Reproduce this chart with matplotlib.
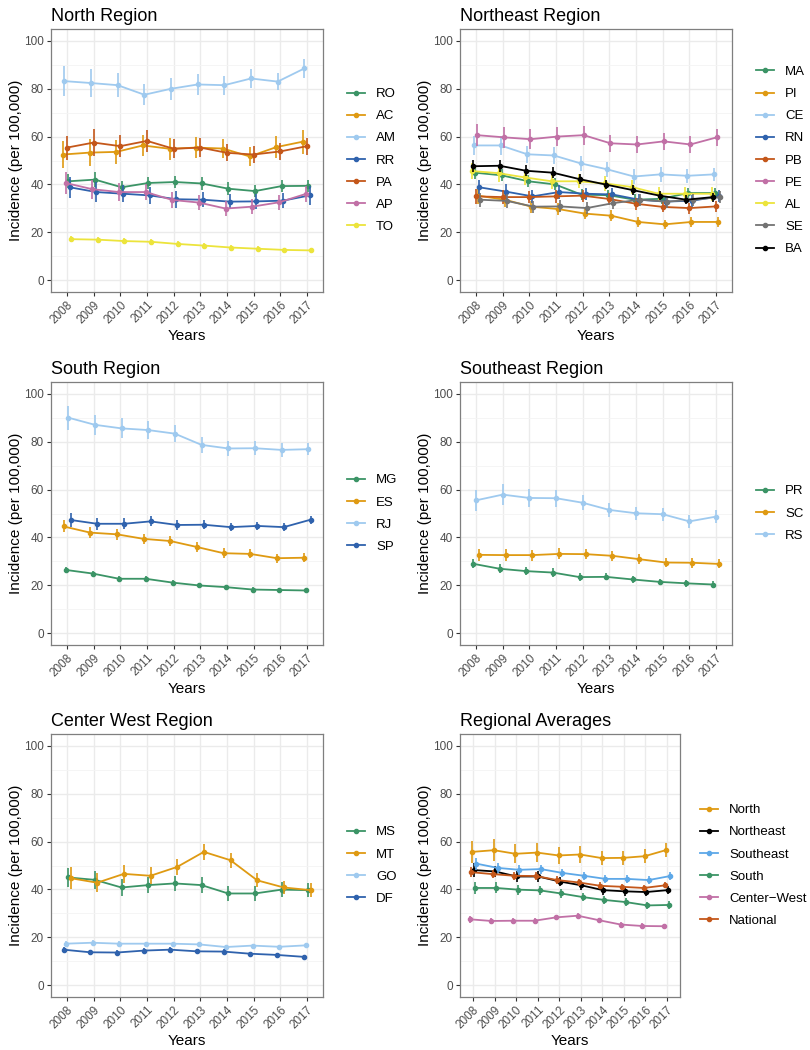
import numpy as np
import matplotlib
matplotlib.use("Agg")
import matplotlib.pyplot as plt

plt.rcParams['font.family'] = ['Liberation Sans', 'DejaVu Sans']

years = [2008, 2009, 2010, 2011, 2012, 2013, 2014, 2015, 2016, 2017]

# North Region
north_names = ['RO', 'AC', 'AM', 'RR', 'PA', 'AP', 'TO']
north_vals = [
    [41.3, 42.0, 38.8, 40.6, 41.0, 40.4, 38.2, 37.2, 39.3, 39.4],
    [52.5, 53.3, 53.6, 56.3, 54.9, 55.4, 55.0, 51.7, 55.6, 57.9],
    [83.2, 82.4, 81.5, 77.5, 80.0, 81.8, 81.5, 84.3, 83.0, 88.5],
    [38.8, 36.8, 36.1, 35.4, 33.8, 33.6, 32.8, 32.9, 33.2, 35.4],
    [55.4, 57.5, 56.0, 58.2, 54.9, 55.4, 53.2, 52.5, 53.8, 56.0],
    [40.6, 38.0, 36.8, 36.8, 33.5, 32.4, 29.9, 30.7, 32.5, 36.0],
    [17.1, 16.9, 16.3, 16.0, 15.1, 14.4, 13.6, 13.1, 12.6, 12.4],
]
north_err = [
    [3.0, 3.0, 2.8, 2.7, 2.7, 2.6, 2.6, 2.5, 2.5, 2.5],
    [5.5, 5.5, 5.0, 4.5, 4.5, 4.5, 4.0, 4.0, 4.5, 5.0],
    [6.2, 5.8, 5.0, 4.4, 4.7, 4.3, 3.9, 3.9, 3.7, 3.8],
    [4.5, 4.0, 3.5, 3.5, 3.5, 3.2, 3.2, 3.0, 3.0, 4.0],
    [5.0, 5.5, 4.5, 4.5, 4.0, 4.0, 3.5, 3.5, 3.5, 3.5],
    [4.5, 4.0, 3.8, 3.5, 3.2, 3.2, 3.0, 3.0, 3.0, 3.5],
    [1.3, 1.2, 1.2, 1.1, 1.1, 1.0, 1.0, 1.0, 1.0, 1.0],
]

# Northeast Region
ne_names = ['MA', 'PI', 'CE', 'RN', 'PB', 'PE', 'AL', 'SE', 'BA']
ne_vals = [
    [44.9, 43.8, 41.3, 40.0, 35.7, 35.5, 33.6, 34.0, 36.4, 36.4],
    [35.3, 33.6, 30.7, 29.7, 27.8, 26.9, 24.3, 23.3, 24.3, 24.3],
    [56.3, 56.3, 52.6, 52.1, 48.8, 46.3, 43.3, 44.2, 43.6, 44.2],
    [38.8, 37.0, 35.0, 36.8, 36.1, 35.8, 33.6, 32.8, 33.2, 35.0],
    [35.0, 34.7, 34.7, 35.0, 35.3, 33.9, 31.9, 30.6, 30.1, 30.8],
    [60.6, 59.7, 58.9, 60.0, 60.6, 57.2, 56.7, 58.0, 56.7, 59.7],
    [45.6, 44.7, 42.9, 41.3, 41.3, 40.4, 38.9, 36.1, 36.1, 36.1],
    [33.6, 33.1, 30.7, 30.8, 30.1, 32.2, 33.6, 32.8, 33.6, 34.7],
    [47.6, 47.8, 45.7, 44.9, 42.2, 39.9, 37.6, 35.3, 33.6, 34.7],
]
ne_err = [
    [2.5, 2.5, 2.5, 2.5, 2.3, 2.3, 2.2, 2.2, 2.2, 2.2],
    [3.5, 3.0, 2.5, 2.5, 2.2, 2.2, 2.0, 2.0, 2.0, 2.0],
    [4.0, 4.0, 3.5, 3.5, 3.2, 3.0, 3.0, 3.0, 3.0, 2.8],
    [3.0, 3.0, 2.8, 2.8, 2.6, 2.6, 2.5, 2.5, 2.5, 2.5],
    [3.0, 2.8, 2.6, 2.6, 2.5, 2.5, 2.4, 2.3, 2.3, 2.3],
    [4.5, 4.5, 4.2, 4.0, 4.0, 3.5, 3.5, 3.5, 3.5, 3.5],
    [3.5, 3.5, 3.2, 3.2, 3.0, 3.0, 3.0, 3.0, 3.0, 3.0],
    [3.0, 3.0, 2.5, 2.5, 2.5, 2.5, 2.5, 2.5, 2.5, 2.5],
    [2.5, 2.5, 2.3, 2.2, 2.1, 2.0, 2.0, 2.0, 1.9, 1.9],
]

# South Region
south_names = ['MG', 'ES', 'RJ', 'SP']
south_vals = [
    [26.4, 24.9, 22.7, 22.7, 21.1, 19.9, 19.2, 18.2, 18.0, 17.8],
    [44.6, 42.0, 41.3, 39.4, 38.5, 36.0, 33.4, 33.1, 31.3, 31.5],
    [90.1, 87.1, 85.6, 84.9, 83.4, 78.7, 77.2, 77.3, 76.6, 76.9],
    [47.3, 45.7, 45.7, 46.7, 45.2, 45.3, 44.3, 44.8, 44.3, 47.4],
]
south_err = [
    [1.2, 1.1, 1.0, 1.0, 0.9, 0.9, 0.9, 0.9, 0.8, 0.8],
    [2.5, 2.4, 2.3, 2.2, 2.2, 2.0, 2.0, 1.9, 1.9, 1.8],
    [5.0, 4.3, 4.2, 3.8, 3.5, 3.2, 3.0, 2.9, 2.8, 2.6],
    [2.8, 2.5, 2.3, 2.1, 2.0, 1.9, 1.8, 1.8, 1.7, 1.6],
]

# Southeast Region
se_names = ['PR', 'SC', 'RS']
se_vals = [
    [29.0, 26.9, 25.9, 25.3, 23.4, 23.5, 22.4, 21.4, 20.8, 20.3],
    [32.7, 32.6, 32.6, 33.1, 33.0, 32.3, 30.9, 29.5, 29.4, 28.9],
    [55.5, 57.9, 56.5, 56.4, 54.5, 51.5, 50.1, 49.7, 46.7, 48.7],
]
se_err = [
    [2.0, 1.8, 1.7, 1.7, 1.6, 1.5, 1.5, 1.4, 1.4, 1.3],
    [2.5, 2.4, 2.3, 2.3, 2.2, 2.1, 2.0, 2.0, 2.0, 1.9],
    [4.5, 4.5, 3.8, 3.5, 3.2, 3.0, 2.8, 2.8, 2.7, 2.7],
]

# Center West Region
cw_names = ['MS', 'MT', 'GO', 'DF']
cw_vals = [
    [45.0, 44.0, 40.8, 41.8, 42.5, 41.8, 38.3, 38.3, 39.9, 39.7],
    [44.7, 42.8, 46.5, 45.7, 49.4, 55.7, 52.2, 43.8, 40.8, 39.7],
    [17.3, 17.7, 17.3, 17.3, 17.3, 17.0, 15.9, 16.5, 16.0, 16.6],
    [14.8, 13.7, 13.6, 14.4, 14.8, 14.1, 14.0, 13.1, 12.6, 11.8],
]
cw_err = [
    [4.0, 3.8, 3.5, 3.3, 3.3, 3.2, 3.0, 3.0, 3.0, 3.0],
    [4.5, 4.0, 3.8, 3.5, 3.5, 3.5, 3.2, 3.0, 2.9, 2.8],
    [1.0, 1.0, 1.0, 0.9, 0.9, 0.9, 0.8, 0.8, 0.8, 0.8],
    [1.1, 1.0, 1.0, 1.0, 1.0, 0.9, 0.9, 0.9, 0.8, 0.8],
]

# Regional Averages
reg_names = ['North', 'Northeast', 'Southeast', 'South', 'Center\u2212West', 'National']
reg_vals = [
    [55.7, 56.4, 54.9, 55.4, 54.2, 54.6, 53.1, 53.2, 53.9, 56.5],
    [48.1, 47.5, 45.4, 45.4, 43.3, 41.7, 39.7, 39.2, 38.9, 39.7],
    [50.8, 49.0, 48.2, 48.5, 46.9, 45.7, 44.4, 44.4, 43.9, 45.6],
    [40.6, 40.6, 39.9, 39.6, 38.3, 36.8, 35.6, 34.7, 33.3, 33.5],
    [27.5, 26.8, 26.9, 26.9, 28.3, 29.0, 27.1, 25.3, 24.7, 24.6],
    [47.2, 46.4, 45.7, 45.6, 43.9, 42.9, 41.5, 41.1, 40.6, 41.7],
]
reg_err = [
    [4.5, 4.5, 4.0, 4.0, 3.5, 3.5, 3.0, 3.0, 3.0, 3.0],
    [2.8, 2.3, 2.2, 2.1, 2.0, 1.9, 1.9, 1.8, 1.8, 1.8],
    [2.5, 2.2, 2.0, 1.9, 1.8, 1.7, 1.6, 1.6, 1.5, 1.5],
    [2.5, 2.3, 2.1, 2.0, 1.9, 1.8, 1.7, 1.7, 1.6, 1.6],
    [1.5, 1.3, 1.3, 1.3, 1.2, 1.2, 1.1, 1.1, 1.1, 1.0],
    [2.0, 1.8, 1.6, 1.5, 1.5, 1.4, 1.4, 1.3, 1.3, 1.3],
]

GREEN = '#3b9466'
ORANGE = '#df9a12'
LBLUE = '#9fcaef'
DBLUE = '#2f62ad'
VERM = '#c4571a'
PINK = '#c170a6'
YELLOW = '#ece43c'
GREY = '#737373'
BLACK = '#000000'
MBLUE = '#5da8e8'

panels = [
    ('North Region', north_names, north_vals, north_err,
     [GREEN, ORANGE, LBLUE, DBLUE, VERM, PINK, YELLOW]),
    ('Northeast Region', ne_names, ne_vals, ne_err,
     [GREEN, ORANGE, LBLUE, DBLUE, VERM, PINK, YELLOW, GREY, BLACK]),
    ('South Region', south_names, south_vals, south_err,
     [GREEN, ORANGE, LBLUE, DBLUE]),
    ('Southeast Region', se_names, se_vals, se_err,
     [GREEN, ORANGE, LBLUE]),
    ('Center West Region', cw_names, cw_vals, cw_err,
     [GREEN, ORANGE, LBLUE, DBLUE]),
    ('Regional Averages', reg_names, reg_vals, reg_err,
     [ORANGE, BLACK, MBLUE, GREEN, PINK, VERM]),
]

fig = plt.figure(figsize=(8.1, 10.5), dpi=100)
W, H = 810, 1050
col_left = [51, 460]
row_top = [29, 382, 734]
ah = 263

for k, (title, names, vals, errs, cols) in enumerate(panels):
    r, c = divmod(k, 2)
    # the last panel has a wider legend, so its plot area is narrower
    aw = 220 if k == 5 else 272
    gap = 20 if k == 5 else 24
    ax = fig.add_axes([col_left[c] / W, 1 - (row_top[r] + ah) / H, aw / W, ah / H])
    n = len(names)
    # dodge like ggplot: groups ordered alphabetically
    order = sorted(range(n), key=lambda i: names[i])
    dw = 0.35
    x = np.array(years, dtype=float)
    for i in range(n):
        pos = order.index(i)
        off = (pos - (n - 1) / 2) * dw / n
        ax.errorbar(x + off, vals[i], yerr=errs[i], fmt='none', ecolor=cols[i],
                    elinewidth=1.2, capsize=0)
        ax.plot(x + off, vals[i], color=cols[i], lw=1.3, marker='o', ms=3,
                label=names[i])
    ax.set_xlim(2007.4, 2017.6)
    ax.set_ylim(-5, 105)
    ax.set_xticks(years)
    ax.set_xticklabels([str(y) for y in years], rotation=45, ha='right',
                       rotation_mode='anchor', fontsize=8.5, color='#4d4d4d')
    ax.set_yticks([0, 20, 40, 60, 80, 100])
    ax.set_yticks([10, 30, 50, 70, 90], minor=True)
    ax.tick_params(axis='y', labelsize=8.5, labelcolor='#4d4d4d')
    ax.tick_params(which='major', length=3, width=0.8, color='#333333', pad=2)
    ax.tick_params(which='minor', length=0)
    ax.grid(which='major', color='#ebebeb', lw=1.0)
    ax.grid(which='minor', axis='y', color='#f4f4f4', lw=0.6)
    ax.set_axisbelow(True)
    for s in ax.spines.values():
        s.set_color('#7f7f7f')
        s.set_linewidth(0.9)
    ax.set_title(title, loc='left', fontsize=13, pad=6)
    ax.set_xlabel('Years', fontsize=11, labelpad=2)
    ax.set_ylabel('Incidence (per 100,000)', fontsize=11, labelpad=1)
    ax.legend(loc='center left', bbox_to_anchor=(1 + gap / aw, 0.5), frameon=False,
              fontsize=9.5, handlelength=1.4, labelspacing=0.75,
              handletextpad=0.8, borderaxespad=0, borderpad=0)

fig.savefig('out.png', dpi=100)
